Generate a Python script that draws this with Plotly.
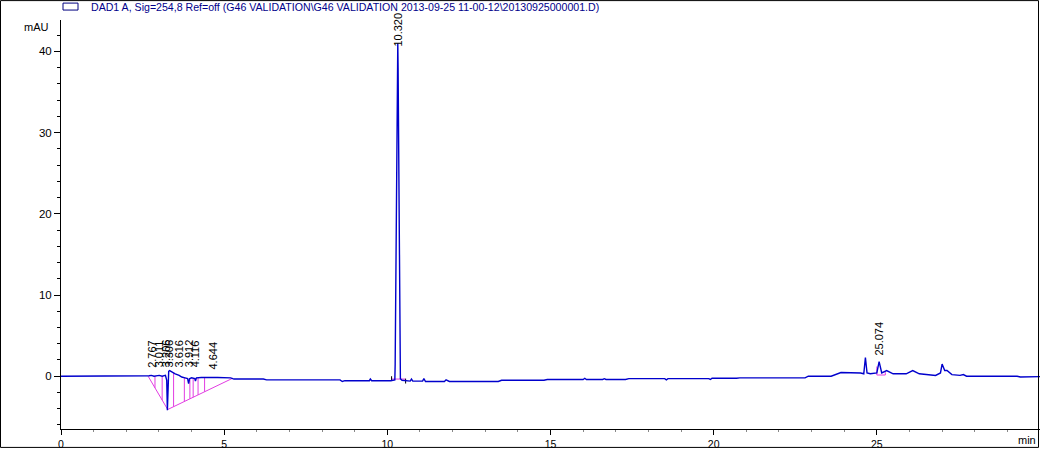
import plotly.graph_objects as go

# ---------------- data ----------------
time_min = [0.00, 2.60, 2.70, 2.77, 2.85, 3.01, 3.10, 3.20, 3.24, 3.26, 3.28, 3.30, 3.33, 3.40,
            3.50, 3.62, 3.70, 3.80, 3.88, 3.91, 3.94, 4.00, 4.10, 4.12, 4.15, 4.30, 4.64, 4.80,
            5.20, 5.30, 6.20, 6.30, 8.55, 8.62, 8.70, 9.45, 9.48, 9.52, 10.10, 10.20, 10.23,
            10.24, 10.25, 10.28, 10.305, 10.32, 10.33, 10.345, 10.36, 10.375, 10.385, 10.40,
            10.45, 10.55, 10.70, 10.74, 10.78, 11.08, 11.12, 11.17, 11.75, 11.80, 11.90, 13.40,
            13.50, 14.80, 14.90, 16.00, 16.05, 16.10, 16.60, 16.65, 16.70, 17.30, 17.40, 18.50,
            18.55, 18.60, 19.85, 19.90, 19.95, 20.70, 20.80, 22.80, 22.90, 23.60, 23.90, 24.50,
            24.60, 24.65, 24.70, 24.80, 25.00, 25.07, 25.15, 25.30, 25.50, 25.90, 26.10, 26.30,
            26.80, 26.95, 27.00, 27.08, 27.15, 27.30, 27.55, 27.65, 27.75, 29.30, 29.40, 30.00]
signal_mau = [0.00, 0.00, 0.05, 0.10, 0.00, 0.10, 0.00, 0.10, -0.50, -4.20, -1.00, 0.60, 0.70, 0.50,
              0.30, 0.10, -0.10, -0.20, -0.30, -0.90, -0.30, -0.20, -0.30, -0.60, -0.20, -0.15, -0.10, -0.15,
              -0.20, -0.35, -0.35, -0.45, -0.45, -0.65, -0.55, -0.55, -0.35, -0.55, -0.55, -0.50, -0.45,
              1.50, 7.50, 25.0, 40.0, 41.0, 38.0, 26.5, 20.0, 5.0, 0.50, -0.30,
              -0.50, -0.55, -0.60, -0.35, -0.60, -0.60, -0.30, -0.65, -0.65, -0.45, -0.65, -0.65,
              -0.50, -0.50, -0.40, -0.40, -0.25, -0.40, -0.40, -0.30, -0.40, -0.40, -0.30, -0.30,
              -0.45, -0.30, -0.30, -0.40, -0.25, -0.25, -0.20, -0.20, 0.00, 0.00, 0.45, 0.40,
              0.30, 2.30, 0.40, 0.30, 0.40, 1.80, 0.40, 0.70, 0.30, 0.30, 0.70, 0.30,
              0.10, 0.40, 1.50, 0.70, 0.70, 0.20, 0.10, 0.20, 0.00, 0.00, -0.10, -0.05]

# integration baselines (magenta)
cluster_base_t = [2.67, 3.27, 5.26]
cluster_base_v = [0.00, -4.10, -0.25]
drop_t = [2.88, 3.10, 3.45, 3.78, 3.95, 4.05, 4.20, 4.40]
main_base_t = [10.13, 10.56]
main_base_v = [-0.35, -0.35]
p25_base_t = [25.00, 25.00, 25.26, 25.26]
p25_base_v = [1.20, 0.15, 0.15, 0.50]

# peak labels
peak_labels = ["2.767", "3.011", "3.206", "3.306", "3.616", "3.912", "4.116", "4.644", "10.320", "25.074"]
peak_times = [2.767, 3.011, 3.206, 3.306, 3.616, 3.912, 4.116, 4.644, 10.320, 25.074]
label_base = [0.7, 0.7, 0.7, 0.7, 0.7, 0.7, 0.7, 0.4, 40.2, 2.2]

x_ticks = [0, 5, 10, 15, 20, 25]
y_ticks = [0, 10, 20, 30, 40]

SIG = "#0000CC"
MAG = "#E23CE2"
FONT = "Liberation Sans, Arial, sans-serif"

fig = go.Figure()

# cluster baseline and drop lines
dx, dy = [], []
for t in drop_t:
    if t <= cluster_base_t[1]:
        f = (t - cluster_base_t[0]) / (cluster_base_t[1] - cluster_base_t[0])
        b = cluster_base_v[0] + f * (cluster_base_v[1] - cluster_base_v[0])
    else:
        f = (t - cluster_base_t[1]) / (cluster_base_t[2] - cluster_base_t[1])
        b = cluster_base_v[1] + f * (cluster_base_v[2] - cluster_base_v[1])
    s = 0.0
    for i in range(len(time_min) - 1):
        if time_min[i] <= t <= time_min[i + 1]:
            g = (t - time_min[i]) / (time_min[i + 1] - time_min[i])
            s = signal_mau[i] + g * (signal_mau[i + 1] - signal_mau[i])
            break
    dx += [t, t, None]
    dy += [b, s, None]

fig.add_trace(go.Scatter(x=dx, y=dy, mode="lines", line=dict(color=MAG, width=1), hoverinfo="skip"))
fig.add_trace(go.Scatter(x=cluster_base_t, y=cluster_base_v, mode="lines",
                         line=dict(color=MAG, width=1), hoverinfo="skip"))
fig.add_trace(go.Scatter(x=main_base_t, y=main_base_v, mode="lines",
                         line=dict(color=MAG, width=1), hoverinfo="skip"))
fig.add_trace(go.Scatter(x=p25_base_t, y=p25_base_v, mode="lines",
                         line=dict(color=MAG, width=1), hoverinfo="skip"))
fig.add_trace(go.Scatter(x=[main_base_t[0], main_base_t[0], None, main_base_t[1], main_base_t[1]],
                         y=[0.0, -0.6, None, -0.3, -0.9], mode="lines",
                         line=dict(color="black", width=1), hoverinfo="skip"))

fig.add_trace(go.Scatter(x=time_min, y=signal_mau, mode="lines",
                         line=dict(color=SIG, width=1.4), hoverinfo="skip"))

for lab, t, v in zip(peak_labels, peak_times, label_base):
    fig.add_annotation(x=t, y=v, text=lab, textangle=-90, showarrow=False,
                       xanchor="center", yanchor="bottom", yshift=1,
                       font=dict(family=FONT, size=11, color="black"))

W, H = 1040, 450
L, R, T, B = 61, 0, 20, 19
pw, ph = W - L - R, H - T - B


def px(xp):
    return (xp - L) / pw


def py(yp):
    return (H - B - yp) / ph


fig.add_shape(type="rect", xref="paper", yref="paper", x0=px(63), x1=px(78), y0=py(10), y1=py(3),
              line=dict(color="#000080", width=1))
fig.add_annotation(xref="paper", yref="paper", x=px(89), y=py(6.5), xanchor="left", yanchor="middle",
                   showarrow=False,
                   text="DAD1 A, Sig=254,8 Ref=off (G46 VALIDATION\\G46 VALIDATION 2013-09-25 11-00-12\\20130925000001.D)",
                   font=dict(family=FONT, size=10.6, color="#00008B"))
fig.add_annotation(xref="paper", yref="paper", x=px(51), y=py(27), xanchor="right", yanchor="middle",
                   showarrow=False, text="mAU", font=dict(family=FONT, size=11, color="black"))
fig.add_annotation(xref="paper", yref="paper", x=px(1038), y=py(442), xanchor="right", yanchor="middle",
                   showarrow=False, text="min", font=dict(family=FONT, size=11, color="black"))
fig.add_shape(type="rect", xref="paper", yref="paper", x0=px(0.5), x1=px(1038.5), y0=py(449.5), y1=py(0.5),
              line=dict(color="black", width=1))

fig.update_layout(
    width=W, height=H, margin=dict(l=L, r=R, t=T, b=B),
    paper_bgcolor="white", plot_bgcolor="white", showlegend=False,
    font=dict(family=FONT, size=10, color="black"),
    xaxis=dict(range=[0, 30], tickvals=x_ticks, ticktext=[str(v) for v in x_ticks],
               showgrid=False, zeroline=False, showline=True, linecolor="black", linewidth=1,
               ticks="outside", ticklen=5, tickcolor="black", tickfont=dict(size=10.5),
               minor=dict(dtick=1, ticks="outside", ticklen=2, tickcolor="#888", showgrid=False)),
    yaxis=dict(range=[-6.5, 43.87], tickvals=y_ticks, ticktext=[str(v) for v in y_ticks],
               showgrid=False, zeroline=False, showline=True, linecolor="black", linewidth=1,
               ticks="outside", ticklen=6, tickcolor="black", tickfont=dict(size=11.5),
               minor=dict(dtick=2, ticks="outside", ticklen=3, tickcolor="black", showgrid=False)),
)

fig.write_html("out.html")
